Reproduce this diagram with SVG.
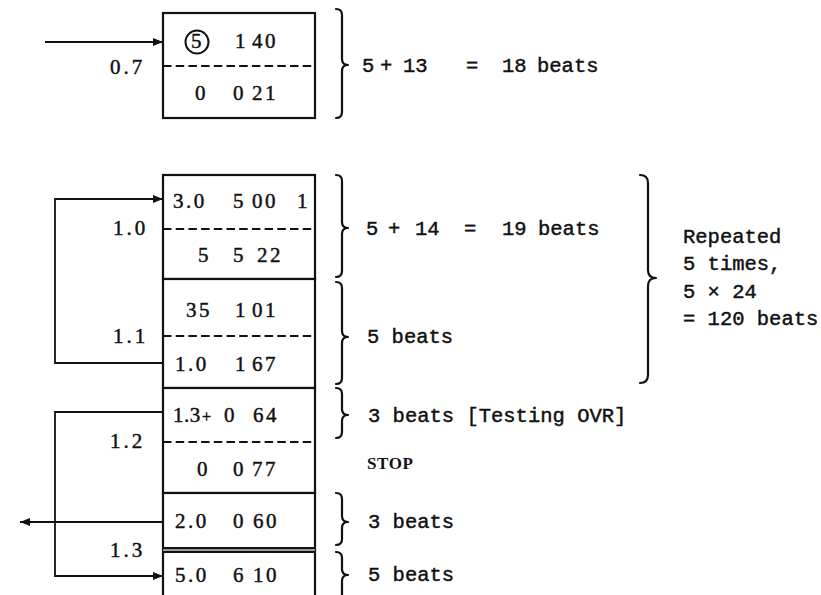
<svg xmlns="http://www.w3.org/2000/svg" width="821" height="595" viewBox="0 0 821 595">
<style>
.box{fill:#fff;stroke:#111;stroke-width:2.2}
.div{stroke:#111;stroke-width:2}
.dash{stroke:#111;stroke-width:2;stroke-dasharray:8.5 4.2}
.num{font-family:"Liberation Serif",serif;font-size:21px;letter-spacing:2.5px;fill:#111;stroke:#111;stroke-width:0.45}
.lab{font-family:"Liberation Serif",serif;font-size:21px;letter-spacing:3px;fill:#111;stroke:#111;stroke-width:0.45}
.tw{font-family:"Liberation Mono",monospace;font-size:20.5px;fill:#111;stroke:#111;stroke-width:0.45}
.brace{fill:none;stroke:#111;stroke-width:2.2;stroke-linejoin:round;stroke-linecap:round}
.conn{fill:none;stroke:#111;stroke-width:1.8}
</style>
<defs>
<marker id="ah" viewBox="0 0 10 10" refX="10" refY="5" markerWidth="12" markerHeight="10" markerUnits="userSpaceOnUse" orient="auto">
<path d="M0,1 L10,5 L0,9 z" fill="#111"/>
</marker>
</defs>
<rect width="821" height="595" fill="#fff"/>

<g id="connectors">
<line class="conn" x1="45" y1="42" x2="163" y2="42" marker-end="url(#ah)"/>
<path class="conn" d="M163,363 H55 V199 H163" marker-end="url(#ah)"/>
<path class="conn" d="M163,412 H55 V576 H163" marker-end="url(#ah)"/>
<path class="conn" d="M163,522 H20" marker-end="url(#ah)"/>
</g>

<g id="loc07">
<rect class="box" x="163" y="13" width="152" height="105"/>
<line class="dash" x1="163" y1="66" x2="315" y2="66"/>
<circle cx="197" cy="42" r="11.5" fill="none" stroke="#111" stroke-width="2"/>
<text class="num" y="48"><tspan x="191">5</tspan> <tspan x="235">1</tspan> <tspan x="252">40</tspan></text>
<text class="num" y="100"><tspan x="195">0</tspan> <tspan x="233">0</tspan> <tspan x="252">21</tspan></text>
<text class="lab" x="110" y="74">0.7</text>
</g>

<g id="loc10">
<rect class="box" x="163" y="175" width="152" height="104"/>
<line class="dash" x1="163" y1="229" x2="315" y2="229"/>
<text class="num" y="208"><tspan x="173">3.0</tspan> <tspan x="233">5</tspan> <tspan x="252">00</tspan> <tspan x="297">1</tspan></text>
<text class="num" y="262"><tspan x="198">5</tspan> <tspan x="233">5</tspan> <tspan x="257">22</tspan></text>
<text class="lab" x="113" y="235">1.0</text>
</g>

<g id="loc11">
<rect class="box" x="163" y="279" width="152" height="109"/>
<line class="dash" x1="163" y1="336" x2="315" y2="336"/>
<text class="num" y="317"><tspan x="186">35</tspan> <tspan x="235">1</tspan> <tspan x="252">01</tspan></text>
<text class="num" y="371"><tspan x="175">1.0</tspan> <tspan x="235">1</tspan> <tspan x="252">67</tspan></text>
<text class="lab" x="113" y="343">1.1</text>
</g>

<g id="loc12">
<rect class="box" x="163" y="388" width="152" height="105"/>
<line class="dash" x1="163" y1="442" x2="315" y2="442"/>
<text class="num" y="422"><tspan x="173" letter-spacing="0.5">1.3</tspan><tspan x="202" font-size="16" letter-spacing="0">+</tspan> <tspan x="224">0</tspan> <tspan x="253">64</tspan></text>
<text class="num" y="476"><tspan x="197">0</tspan> <tspan x="233">0</tspan> <tspan x="252">77</tspan></text>
<text class="lab" x="110" y="448">1.2</text>
</g>

<g id="loc13">
<rect class="box" x="163" y="493" width="152" height="120"/>
<rect x="163" y="548" width="152" height="4" fill="#999"/>
<line class="div" x1="163" y1="548" x2="315" y2="548"/>
<line class="div" x1="163" y1="552" x2="315" y2="552"/>
<text class="num" y="528"><tspan x="175">2.0</tspan> <tspan x="233">0</tspan> <tspan x="253">60</tspan></text>
<text class="num" y="582"><tspan x="175">5.0</tspan> <tspan x="233">6</tspan> <tspan x="253">10</tspan></text>
<text class="lab" x="110" y="557">1.3</text>
</g>

<g id="annotations">
<path class="brace" d="M336,9 Q342,9 342,15 L342,59 Q342,65 348,65 Q342,65 342,71 L342,112 Q342,118 336,118"/>
<text class="tw" y="72"><tspan x="362">5</tspan> <tspan x="380">+</tspan> <tspan x="403">13</tspan> <tspan x="466">=</tspan> <tspan x="502">18</tspan> <tspan x="537">beats</tspan></text>

<path class="brace" d="M336,175 Q342,175 342,181 L342,222 Q342,228 348,228 Q342,228 342,234 L342,271 Q342,277 336,277"/>
<text class="tw" y="235"><tspan x="366">5</tspan> <tspan x="388">+</tspan> <tspan x="415">14</tspan> <tspan x="464">=</tspan> <tspan x="502">19</tspan> <tspan x="538">beats</tspan></text>

<path class="brace" d="M336,282 Q342,282 342,288 L342,331 Q342,337 348,337 Q342,337 342,343 L342,378 Q342,384 336,384"/>
<text class="tw" x="367" y="343">5 beats</text>

<path class="brace" d="M336,388 Q342,388 342,394 L342,409 Q342,415 348,415 Q342,415 342,421 L342,432 Q342,438 336,438"/>
<text class="tw" x="368" y="422">3 beats [Testing OVR]</text>

<text x="367" y="469" font-family="Liberation Serif,serif" font-size="17" font-weight="bold" textLength="46" fill="#111">STOP</text>

<path class="brace" d="M336,493 Q342,493 342,499 L342,516 Q342,522 348,522 Q342,522 342,528 L342,539 Q342,545 336,545"/>
<text class="tw" x="368" y="528">3 beats</text>

<path class="brace" d="M336,552 Q342,552 342,558 L342,569 Q342,575 348,575 Q342,575 342,581 L342,610"/>
<text class="tw" x="368" y="581">5 beats</text>

<path class="brace" d="M640,175 Q648,175 648,183 L648,270 Q648,278 656,278 Q648,278 648,286 L648,375 Q648,383 640,383"/>
<text class="tw" x="683" y="243">Repeated</text>
<text class="tw" x="683" y="270">5 times,</text>
<text class="tw" x="683" y="298">5 × 24</text>
<text class="tw" x="683" y="325">= 120 beats</text>
</g>
</svg>
